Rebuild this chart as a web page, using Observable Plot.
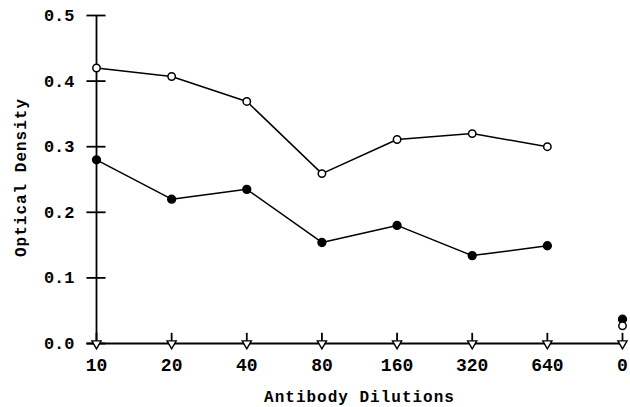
<!DOCTYPE html>
<html>
<head>
<meta charset="utf-8">
<script src="https://cdn.jsdelivr.net/npm/d3@7"></script>
<script src="https://cdn.jsdelivr.net/npm/@observablehq/plot@0.6"></script>
<style>
  html, body { margin: 0; padding: 0; background: #fff; }
  #chart svg { display: block; }
  .title-text text { letter-spacing: 1px; }
</style>
</head>
<body>
<div id="chart"></div>
<script>
const dilutions = ["10", "20", "40", "80", "160", "320", "640", "0"];
const openOD = [0.42, 0.407, 0.369, 0.259, 0.311, 0.320, 0.300, 0.027];
const filledOD = [0.28, 0.22, 0.235, 0.154, 0.18, 0.134, 0.149, 0.037];
const baselineOD = [0, 0, 0, 0, 0, 0, 0, 0];
const yTicks = [0, 0.1, 0.2, 0.3, 0.4, 0.5];
const xTitle = "Antibody Dilutions";
const yTitle = "Optical Density";

const rows = dilutions.map((d, i) => ({i, label: d, open: openOD[i], filled: filledOD[i], base: baselineOD[i]}));
const series = rows.filter(d => d.label !== "0");
const last = dilutions.length - 1;
const font = "'Liberation Mono', 'DejaVu Sans Mono', monospace";

const chart = Plot.plot({
  width: 630,
  height: 407,
  marginLeft: 96,
  marginRight: 8,
  marginTop: 15,
  marginBottom: 64,
  style: {fontFamily: font, fontWeight: "bold", fontSize: "17px", color: "#000", background: "#fff"},
  x: {type: "linear", domain: [0, last], axis: null},
  y: {domain: [0, 0.5], axis: null},
  marks: [
    // axis lines
    Plot.ruleX([0], {y1: 0, y2: 0.5, stroke: "#000", strokeWidth: 1.8}),
    Plot.ruleY([0], {x1: -0.127, x2: last, stroke: "#000", strokeWidth: 1.8}),
    // crossing ticks
    Plot.ruleY(yTicks, {x1: -0.127, x2: 0.127, stroke: "#000", strokeWidth: 1.8}),
    Plot.ruleX(d3.range(dilutions.length), {y1: -0.005, y2: 0.0155, stroke: "#000", strokeWidth: 1.8}),
    // tick labels
    Plot.axisY(yTicks, {tickSize: 0, tickPadding: 22, tickFormat: d3.format(".1f"), fontSize: 17, label: null}),
    Plot.axisX(d3.range(dilutions.length), {tickSize: 0, tickPadding: 15, tickFormat: i => dilutions[i], fontSize: 18, label: null}),
    // lines
    Plot.line(series, {x: "i", y: "open", stroke: "#000", strokeWidth: 1.5}),
    Plot.line(series, {x: "i", y: "filled", stroke: "#000", strokeWidth: 1.5}),
    // baseline triangles
    Plot.dot(rows, {x: "i", y: "base", symbol: "triangle", rotate: 180, r: 3.4, fill: "#fff", stroke: "#000", strokeWidth: 1.4}),
    // points
    Plot.dot(rows, {x: "i", y: "filled", r: 3.9, fill: "#000", stroke: "#000"}),
    Plot.dot(rows, {x: "i", y: "open", r: 3.7, fill: "#fff", stroke: "#000", strokeWidth: 1.5}),
    // titles
    Plot.text([xTitle], {frameAnchor: "bottom", dy: 58, fontSize: 16, fontWeight: "bold", className: "title-text"}),
    Plot.text([yTitle], {frameAnchor: "left", textAnchor: "middle", dx: -76, dy: -2, rotate: -90, fontSize: 16, fontWeight: "bold", className: "title-text"})
  ]
});
document.getElementById("chart").appendChild(chart);
</script>
</body>
</html>
